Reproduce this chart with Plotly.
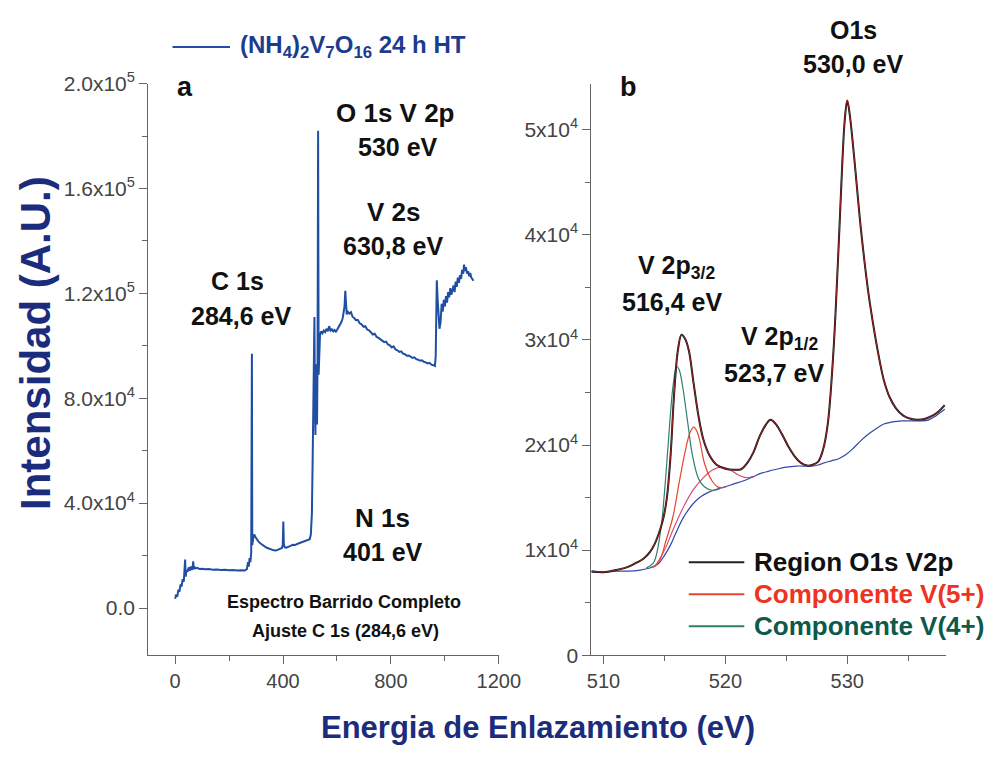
import plotly.graph_objects as go

# ---------------- data ----------------
# Survey spectrum (panel a): binding energy (eV) and intensity (counts)
survey_e = [0, 4, 8, 12, 16, 20, 24, 28, 32, 35, 37, 39, 42, 46, 50, 54, 58, 62, 65, 67,
            69, 72, 76, 82, 90, 100, 112, 125, 140, 155, 170, 185, 200, 215, 230, 245, 258,
            266, 270, 273, 276, 279, 282, 284.6, 286, 289, 293, 297, 302, 310, 318, 326, 334,
            342, 350, 358, 366, 374, 382, 390, 396, 399, 401, 403, 406, 412, 420, 428, 436,
            444, 452, 460, 468, 476, 484, 492, 499, 503, 507, 510, 513, 516.4, 518, 520, 522,
            523.7, 526, 528, 530, 532, 534, 537, 541, 546, 551, 556, 561, 566, 571, 576, 581,
            586, 591, 596, 601, 606, 611, 616, 621, 625, 628, 630.8, 633, 636, 640, 646, 652,
            658, 664, 670, 677, 684, 691, 698, 705, 712, 719, 726, 733, 740, 747, 754, 761,
            768, 775, 782, 789, 796, 803, 810, 817, 824, 831, 838, 845, 852, 859, 866, 873,
            880, 887, 894, 901, 908, 915, 922, 929, 936, 943, 950, 957, 963, 966, 968, 970,
            973, 976, 980, 984, 988, 992, 996, 1000, 1004, 1008, 1012, 1016, 1020, 1024, 1028,
            1032, 1036, 1040, 1044, 1048, 1052, 1056, 1060, 1064, 1068, 1071, 1074, 1078,
            1082, 1086, 1090, 1094, 1098, 1102, 1106]
survey_i = [3500, 5200, 4300, 7000, 6200, 9000, 8200, 11000, 10000, 13500, 18500, 12000, 14500,
            13800, 15500, 14200, 15800, 14600, 15200, 17800, 14800, 15600, 15100, 15300, 14900,
            15000, 14800, 14900, 14600, 14700, 14500, 14600, 14400, 14500, 14300, 14400, 14300,
            14800, 17500, 15800, 19000, 17500, 21000, 97000, 24000, 26500, 28000, 27200, 26300,
            25200, 24500, 23800, 23300, 22900, 22500, 22200, 22000, 21900, 22300, 22600, 22900,
            24000, 33000, 24500, 23200, 23000, 23500, 23700, 24100, 24000, 24400, 24700, 24900,
            25200, 25400, 25800, 26200, 28000, 36000, 58000, 92000, 111000, 80000, 66000, 93000,
            86000, 70000, 95000, 182000, 89000, 97000, 104000, 105500, 104800, 105800, 105200,
            106500, 105600, 107500, 105800, 106300, 105500, 106000, 105400, 106200, 107000,
            107800, 109000, 110500, 112500, 115000, 121000, 114000, 112000, 113000, 112300,
            112800, 111000, 110600, 109800, 109900, 108600, 108200, 107300, 107500, 106200,
            105900, 105200, 104300, 104600, 103400, 103000, 102500, 102000, 101400, 101600,
            100500, 100200, 99400, 99800, 98600, 98300, 97700, 97900, 97000, 96800, 96200,
            96300, 95700, 95400, 95600, 94900, 94700, 94300, 94500, 93900, 93700, 93300, 93500,
            92800, 92600, 92300, 96000, 112000, 125000, 118000, 110000, 106500, 109000, 116000,
            113000, 117500, 115000, 119000, 116500, 120500, 118500, 122000, 119500, 121500,
            123000, 120500, 124500, 122500, 126000, 124000, 127000, 125500, 129000, 127500,
            131000, 128500, 130000, 127500, 128500, 126500, 127800, 126000, 125500, 124800]

# High-resolution O1s / V2p region (panel b)
region_e = [509.0, 510.0, 511.0, 512.0, 512.7, 513.3, 513.8, 514.2, 514.6, 514.9, 515.2, 515.5,
            515.8, 516.1, 516.4, 516.7, 517.0, 517.4, 517.8, 518.2, 518.7, 519.3, 520.0, 520.7,
            521.3, 521.8, 522.3, 522.8, 523.3, 523.7, 524.2, 524.7, 525.2, 525.7, 526.2, 526.7,
            527.1, 527.6, 528.0, 528.4, 528.85, 529.25, 529.6, 529.8, 530.0, 530.2, 530.6,
            531.1, 531.7, 532.1, 532.5, 533.0, 533.5, 534.0, 534.6, 535.2, 535.8, 536.4, 537.0,
            537.5, 538.0]
region_i = [8000, 7900, 8100, 8400, 8800, 9200, 9800, 10600, 11800, 13000, 15000, 19000,
            25000, 29000, 30500, 30100, 29000, 25800, 22700, 20500, 19000, 18100, 17750, 17650,
            17700, 18300, 19300, 20800, 21900, 22400, 21900, 20900, 19800, 18900, 18300, 18050,
            18100, 18400, 19500, 22000, 28600, 37800, 47000, 51000, 52800, 51500, 47000, 40800,
            34800, 31700, 29000, 26200, 24500, 23500, 22800, 22500, 22400, 22500, 22800, 23200,
            23800]

v4_e = [513.5, 514.1, 514.7, 515.0, 515.3, 515.7, 516.0, 516.2, 516.5, 516.9, 517.3, 517.8,
        518.3, 518.9, 519.5]
v4_i = [8300, 8800, 12000, 15500, 20000, 25600, 27500, 27200, 25500, 22200, 19000, 16800,
        16000, 15700, 15800]

v5_e = [514.0, 514.6, 515.1, 515.7, 516.2, 516.7, 517.1, 517.4, 517.7, 517.9, 518.3, 518.9,
        519.4, 520.0]
v5_i = [8300, 9000, 10800, 13200, 16400, 19400, 21200, 21700, 21200, 20400, 18200, 16600,
        16000, 16000]

v5b_e = [514.2, 515.0, 515.8, 516.6, 517.4, 518.2, 518.9, 519.6, 520.3, 521.0, 521.7, 522.3]
v5b_i = [8400, 10000, 12200, 14200, 15800, 16900, 17600, 17900, 17700, 17200, 16900, 17000]

bg_e = [509.0, 510.0, 511.0, 512.0, 513.0, 513.8, 514.5, 515.0, 515.5, 516.0, 516.5, 517.0,
        517.5, 518.0, 518.6, 519.3, 519.9, 520.7, 521.5, 522.3, 522.9, 523.5, 524.2, 525.0,
        525.8, 526.6, 527.1, 527.6, 528.1, 528.7, 529.3, 529.9, 530.5, 531.1, 531.7, 532.3,
        533.0, 533.7, 534.5, 535.3, 536.0, 536.7, 537.3, 538.0]
bg_i = [7900, 7900, 8000, 8000, 8100, 8300, 8700, 9500, 10500, 11800, 13000, 13900, 14600,
        15100, 15500, 15800, 16000, 16300, 16600, 17000, 17300, 17500, 17700, 17900, 18000,
        18000, 18000, 18100, 18300, 18500, 18700, 19100, 19700, 20400, 21000, 21500, 22000,
        22200, 22300, 22300, 22300, 22400, 22800, 23400]

# Axis ticks
a_xticks = [0, 400, 800, 1200]
a_yticks = [0, 40000, 80000, 120000, 160000, 200000]
a_yticktext = ["0.0", "4.0x10<sup>4</sup>", "8.0x10<sup>4</sup>", "1.2x10<sup>5</sup>",
               "1.6x10<sup>5</sup>", "2.0x10<sup>5</sup>"]
b_xticks = [510, 520, 530]
b_yticks = [0, 10000, 20000, 30000, 40000, 50000]
b_yticktext = ["0", "1x10<sup>4</sup>", "2x10<sup>4</sup>", "3x10<sup>4</sup>",
               "4x10<sup>4</sup>", "5x10<sup>4</sup>"]

# ---------------- styling ----------------
W, H = 1003, 760
FONT = "Liberation Sans"
NAVY = "#1c2c7c"
SURVEY_BLUE = "#1f4ea3"
DATA_BLACK = "#141414"
FIT_RED = "#c2282a"
V5_RED = "#e8452e"
V5_PINK = "#d8406a"
V4_TEAL = "#2f7f6c"
BG_BLUE = "#3448a8"
AXIS = "#666666"


def px(x):
    return x / W


def py(y):
    return 1 - y / H


fig = go.Figure()

fig.add_trace(go.Scatter(x=survey_e, y=survey_i, mode="lines", xaxis="x", yaxis="y",
                         line=dict(color=SURVEY_BLUE, width=2), showlegend=False))

fig.add_trace(go.Scatter(x=bg_e, y=bg_i, mode="lines", xaxis="x2", yaxis="y2",
                         line=dict(color=BG_BLUE, width=1.2, shape="spline"), showlegend=False))
fig.add_trace(go.Scatter(x=v5b_e, y=v5b_i, mode="lines", xaxis="x2", yaxis="y2",
                         line=dict(color=V5_PINK, width=1.1, shape="spline"), showlegend=False))
fig.add_trace(go.Scatter(x=v5_e, y=v5_i, mode="lines", xaxis="x2", yaxis="y2",
                         line=dict(color=V5_RED, width=1.2, shape="spline"), showlegend=False))
fig.add_trace(go.Scatter(x=v4_e, y=v4_i, mode="lines", xaxis="x2", yaxis="y2",
                         line=dict(color=V4_TEAL, width=1.2, shape="spline"), showlegend=False))
fig.add_trace(go.Scatter(x=region_e, y=region_i, mode="lines", xaxis="x2", yaxis="y2",
                         line=dict(color=DATA_BLACK, width=2, shape="spline"), showlegend=False))
fig.add_trace(go.Scatter(x=region_e, y=region_i, mode="lines", xaxis="x2", yaxis="y2",
                         line=dict(color=FIT_RED, width=0.8, shape="spline"), showlegend=False))

xtickfont = dict(family=FONT, size=20, color="#444444")
ytickfont = dict(family=FONT, size=21, color="#444444")
axis_common = dict(showline=True, linecolor=AXIS, linewidth=1, ticks="outside", ticklen=8,
                   tickcolor=AXIS, tickwidth=1, showgrid=False, zeroline=False)

y_bottom, y_top = 663, 72

fig.update_layout(
    width=W, height=H,
    margin=dict(l=0, r=0, t=0, b=0),
    paper_bgcolor="white", plot_bgcolor="white",
    xaxis=dict(domain=[px(148), px(508)], range=[-100, 1200], anchor="y",
               tickvals=a_xticks, ticktext=[str(v) for v in a_xticks], tickfont=xtickfont,
               minor=dict(tickvals=[200, 600, 1000], ticklen=5, tickcolor=AXIS, ticks="outside"),
               **axis_common),
    yaxis=dict(domain=[py(y_bottom), py(y_top)], range=[-18000, 200000], anchor="x",
               tickvals=a_yticks, ticktext=a_yticktext, tickfont=ytickfont,
               minor=dict(tickvals=[20000, 60000, 100000, 140000, 180000], ticklen=5,
                          tickcolor=AXIS, ticks="outside"),
               **axis_common),
    xaxis2=dict(domain=[px(603), px(967)], range=[509.0, 538.1], anchor="y2",
                tickvals=b_xticks, ticktext=[str(v) for v in b_xticks], tickfont=xtickfont,
                minor=dict(tickvals=[515, 525, 535], ticklen=5, tickcolor=AXIS, ticks="outside"),
                **axis_common),
    yaxis2=dict(domain=[py(y_bottom), py(y_top)], range=[0, 54400], anchor="x2",
                tickvals=b_yticks, ticktext=b_yticktext, tickfont=ytickfont,
                minor=dict(tickvals=[5000, 15000, 25000, 35000, 45000], ticklen=5,
                           tickcolor=AXIS, ticks="outside"),
                **axis_common),
)

ann = []


def label(text, x, y, size=25, color="#111111", **kw):
    ann.append(dict(text=text, x=px(x), y=py(y), xref="paper", yref="paper",
                    showarrow=False, xanchor="center", yanchor="middle",
                    font=dict(family=FONT, size=size, color=color), **kw))


# panel a labels
label("<b>a</b>", 186, 76, size=27)
label("<b>O 1s V 2p</b>", 402, 102, size=26)
label("<b>530 eV</b>", 404, 138)
label("<b>V 2s</b>", 400, 205, size=26)
label("<b>630,8 eV</b>", 399, 240)
label("<b>C 1s</b>", 240, 276)
label("<b>284,6 eV</b>", 243, 312)
label("<b>N 1s</b>", 389, 521, size=26)
label("<b>401 eV</b>", 389, 556)
label("<b>Espectro Barrido Completo</b>", 349, 608, size=18)
label("<b>Ajuste C 1s (284,6 eV)</b>", 351, 638, size=18)

# panel b labels
label("<b>b</b>", 641, 76, size=27)
label("<b>O1s</b>", 872, 17)
label("<b>530,0 eV</b>", 872, 52)
label("<b>V 2p<sub>3/2</sub></b>", 690, 262)
label("<b>516,4 eV</b>", 686, 298)
label("<b>V 2p<sub>1/2</sub></b>", 796, 335)
label("<b>523,7 eV</b>", 790, 371)

# axis titles
label("<b>Intensidad (A.U.)</b>", 33, 340, size=42, color=NAVY, textangle=-90)
label("<b>Energia de Enlazamiento (eV)</b>", 548, 738, size=31, color=NAVY)

# series keys
shapes = []


def key(x0, x1, y, color, text, tcolor, size):
    shapes.append(dict(type="line", xref="paper", yref="paper", x0=px(x0), x1=px(x1),
                       y0=py(y), y1=py(y), line=dict(color=color, width=2)))
    ann.append(dict(text=text, x=px(x1 + 8), y=py(y), xref="paper", yref="paper",
                    showarrow=False, xanchor="left", yanchor="middle",
                    font=dict(family=FONT, size=size, color=tcolor)))


key(173, 232, 34, SURVEY_BLUE,
    "<b>(NH<sub>4</sub>)<sub>2</sub>V<sub>7</sub>O<sub>16</sub> 24 h HT</b>", "#1d3c8e", 24)
key(703, 760, 567, "#222222", "<b>Region O1s V2p</b>", "#111111", 26)
key(703, 760, 600, V5_RED, "<b>Componente V(5+)</b>", "#ee3322", 26)
key(703, 760, 633, V4_TEAL, "<b>Componente V(4+)</b>", "#0d5a4a", 26)

fig.update_layout(annotations=ann, shapes=shapes)

fig.write_html("out.html")
